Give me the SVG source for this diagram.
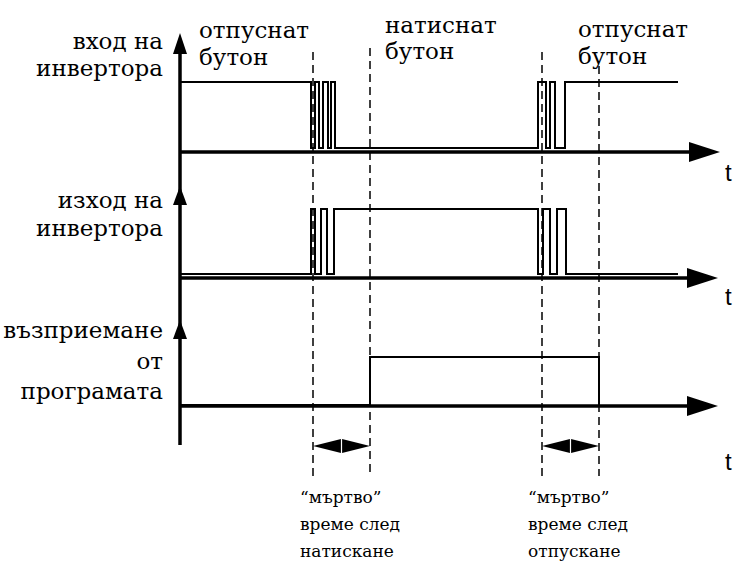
<svg xmlns="http://www.w3.org/2000/svg" width="739" height="580" viewBox="0 0 739 580">
  <defs>
    <style>
      .lbl { font-family: "DejaVu Serif", "Liberation Serif", serif; font-size: 23px; fill: #000; }
      .small { font-family: "DejaVu Serif", "Liberation Serif", serif; font-size: 17px; fill: #000; }
      .end { text-anchor: end; }
      .t { font-family: "Liberation Sans", Arial, sans-serif; font-size: 24px; fill: #000; }
      .axis { stroke: #000; stroke-width: 3.5; fill: none; }
      .sig { stroke: #000; stroke-width: 2; fill: none; stroke-linejoin: miter; }
      .dash { stroke: #000; stroke-width: 1.5; stroke-dasharray: 8 5; fill: none; }
      .head { fill: #000; }
      .tick { stroke: #fff; stroke-width: 1.2; }
    </style>
  </defs>
  <rect width="739" height="580" fill="#fff"/>

  <!-- axes -->
  <g id="axes">
    <line class="axis" x1="180" y1="445" x2="180" y2="45"/>
    <polygon class="head" points="180,33 173,54 187,54"/>
    <polygon class="head" points="180,186 173,205 187,205"/>
    <polygon class="head" points="180,320 173,339 187,339"/>
    <line class="axis" x1="180" y1="152" x2="692" y2="152"/>
    <polygon class="head" points="720,152 689,142 689,162"/>
    <line class="axis" x1="180" y1="278" x2="690" y2="278"/>
    <polygon class="head" points="718,278 687,268 687,288"/>
    <line class="axis" x1="180" y1="406" x2="690" y2="406"/>
    <polygon class="head" points="718,406 687,396 687,416"/>
  </g>

  <!-- time markers -->
  <g id="markers">
    <line class="dash" x1="313" y1="52" x2="313" y2="476"/>
    <line class="dash" x1="370" y1="48" x2="370" y2="476"/>
    <line class="dash" x1="542" y1="52" x2="542" y2="476"/>
    <line class="dash" x1="599" y1="66" x2="599" y2="476"/>
  </g>

  <!-- dead-time spans -->
  <g id="spans">
    <polygon class="head" points="313,446 341,439 341,453"/>
    <polygon class="head" points="370,446 342,439 342,453"/>
    <line class="tick" x1="341.5" y1="439" x2="341.5" y2="453"/>
    <polygon class="head" points="542,446 570,439 570,453"/>
    <polygon class="head" points="599,446 571,439 571,453"/>
    <line class="tick" x1="570.5" y1="439" x2="570.5" y2="453"/>
  </g>

  <!-- signal traces -->
  <g id="traces">
    <path class="sig" d="M180,82 H311 V148 H315 V82 H319 V148 H323 V82 H328 V148 H331 V82 H335 V148 H538 V82 H546 V148 H550 V82 H555 V148 H565 V82 H678"/>
    <path class="sig" d="M180,274 H311 V209 H315 V274 H321 V209 H327 V274 H334 V209 H538 V274 H543 V209 H550 V274 H557 V209 H566 V274 H678"/>
    <path class="sig" d="M180,405 H370 V357 H599 V405"/>
  </g>

  <!-- labels -->
  <g id="labels">
    <text class="lbl end" x="163" y="49">вход на</text>
    <text class="lbl end" x="163" y="76">инвертора</text>
    <text class="lbl end" x="163" y="208">изход на</text>
    <text class="lbl end" x="163" y="236">инвертора</text>
    <text class="lbl end" x="163" y="338">възприемане</text>
    <text class="lbl end" x="163" y="369">от</text>
    <text class="lbl end" x="163" y="399">програмата</text>
    <text class="lbl" x="199" y="38">отпуснат</text>
    <text class="lbl" x="199" y="65">бутон</text>
    <text class="lbl" x="385" y="33">натиснат</text>
    <text class="lbl" x="385" y="59">бутон</text>
    <text class="lbl" x="578" y="37">отпуснат</text>
    <text class="lbl" x="578" y="64">бутон</text>
    <text class="t" x="725" y="181">t</text>
    <text class="t" x="725" y="305">t</text>
    <text class="t" x="725" y="470">t</text>
    <text class="small" x="300" y="503">“мъртво”</text>
    <text class="small" x="300" y="530">време след</text>
    <text class="small" x="300" y="557">натискане</text>
    <text class="small" x="528" y="503">“мъртво”</text>
    <text class="small" x="528" y="530">време след</text>
    <text class="small" x="528" y="557">отпускане</text>
  </g>
</svg>
